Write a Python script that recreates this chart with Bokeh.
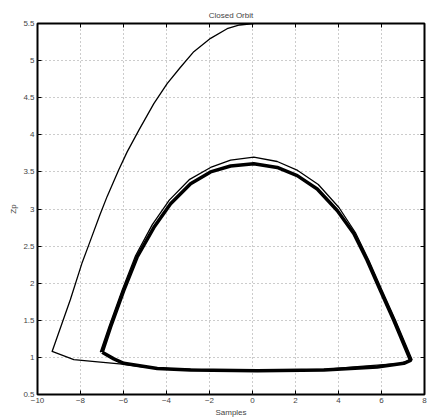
from bokeh.plotting import figure
from bokeh.models import Range1d, FixedTicker, LinearAxis, CustomJSTickFormatter
from bokeh.embed import file_html
from bokeh.resources import INLINE

# ---- data ----
x_ticks = [-10, -8, -6, -4, -2, 0, 2, 4, 6, 8]
y_ticks = [0.5, 1, 1.5, 2, 2.5, 3, 3.5, 4, 4.5, 5, 5.5]

# transient part of the trajectory (thin line): descent from the top, first loop
transient_x = [0.06, -0.6, -1.18, -1.95, -2.73, -3.35, -3.97, -4.59, -5.29, -5.83,
               -6.22, -6.76, -7.10, -7.61, -7.92, -8.47, -9.32, -8.31, -7.2, -6.06,
               -5.06, -3.81, -2.0, 0.0, 2.0, 3.5, 5.02, 6.88, 7.42,
               6.65, 6.03, 5.41, 4.79, 4.02, 3.06, 2.10, 1.15, 0.06,
               -1.02, -1.95, -2.92, -3.87, -4.66, -5.44, -6.06, -6.68, -7.08]
transient_y = [5.5, 5.48, 5.43, 5.30, 5.12, 4.91, 4.69, 4.42, 4.06, 3.77,
               3.53, 3.17, 2.92, 2.52, 2.28, 1.78, 1.08, 0.97, 0.94, 0.91,
               0.87, 0.85, 0.83, 0.83, 0.83, 0.84, 0.88, 0.92, 0.97,
               1.50, 1.90, 2.31, 2.68, 3.02, 3.33, 3.52, 3.64, 3.70,
               3.66, 3.56, 3.40, 3.12, 2.79, 2.37, 1.91, 1.41, 1.07]

# converged closed orbit (thick line)
orbit_x = [-6.99, -6.45, -5.99, -4.43, -2.88, 0.22, 3.32, 5.80, 7.04, 7.35,
           6.57, 5.95, 5.33, 4.71, 3.94, 3.01, 2.08, 1.15, 0.06, -1.02,
           -1.95, -2.88, -3.81, -4.59, -5.37, -5.99, -6.60, -6.99]
orbit_y = [1.07, 0.98, 0.92, 0.85, 0.83, 0.82, 0.83, 0.87, 0.92, 0.96,
           1.50, 1.90, 2.31, 2.67, 2.98, 3.27, 3.45, 3.56, 3.61, 3.58,
           3.50, 3.34, 3.07, 2.75, 2.35, 1.90, 1.41, 1.07]

FONT = "Liberation Sans"
TXT = "#444444"

p = figure(width=427, height=420, output_backend="svg", toolbar_location=None,
           x_range=Range1d(-10, 8), y_range=Range1d(0.5, 5.5),
           min_border_left=37, min_border_right=3, min_border_top=23,
           min_border_bottom=26, background_fill_color="white",
           border_fill_color="white")

p.title.text = "Closed Orbit"
p.title.align = "center"
p.title.text_font = FONT
p.title.text_font_size = "8px"
p.title.text_font_style = "normal"
p.title.text_color = TXT
p.title.standoff = 8

p.outline_line_color = "black"
p.outline_line_width = 2
p.outline_line_alpha = 1

for ax in (p.xaxis[0], p.yaxis[0]):
    ax.axis_line_color = None
    ax.major_tick_in = 4
    ax.major_tick_out = 0
    ax.minor_tick_line_color = None
    ax.major_tick_line_color = "black"
    ax.major_label_text_font = FONT
    ax.major_label_text_font_size = "8px"
    ax.major_label_text_color = TXT
    ax.axis_label_text_font = FONT
    ax.axis_label_text_font_size = "8px"
    ax.axis_label_text_font_style = "normal"
    ax.axis_label_text_color = TXT
    ax.major_label_standoff = 3
    ax.axis_label_standoff = 2

p.xaxis.ticker = FixedTicker(ticks=x_ticks)
p.yaxis.ticker = FixedTicker(ticks=y_ticks)
p.xaxis.axis_label = "Samples"
p.yaxis.axis_label = "Zp"

for loc, ticks in (("above", x_ticks), ("right", y_ticks)):
    ax = LinearAxis(ticker=FixedTicker(ticks=ticks),
                    formatter=CustomJSTickFormatter(code="return ''"),
                    axis_line_color=None, major_tick_in=4, major_tick_out=0,
                    minor_tick_line_color=None, major_label_standoff=0)
    p.add_layout(ax, loc)

p.xgrid.ticker = FixedTicker(ticks=x_ticks)
p.ygrid.ticker = FixedTicker(ticks=y_ticks)
p.grid.grid_line_color = "#999999"
p.grid.grid_line_dash = "1 3"
p.grid.grid_line_width = 1

p.line(transient_x, transient_y, line_color="black", line_width=1.3,
       line_join="round")
p.line(orbit_x, orbit_y, line_color="black", line_width=3.5, line_join="round")

open("out.html", "w").write(file_html(p, INLINE))
